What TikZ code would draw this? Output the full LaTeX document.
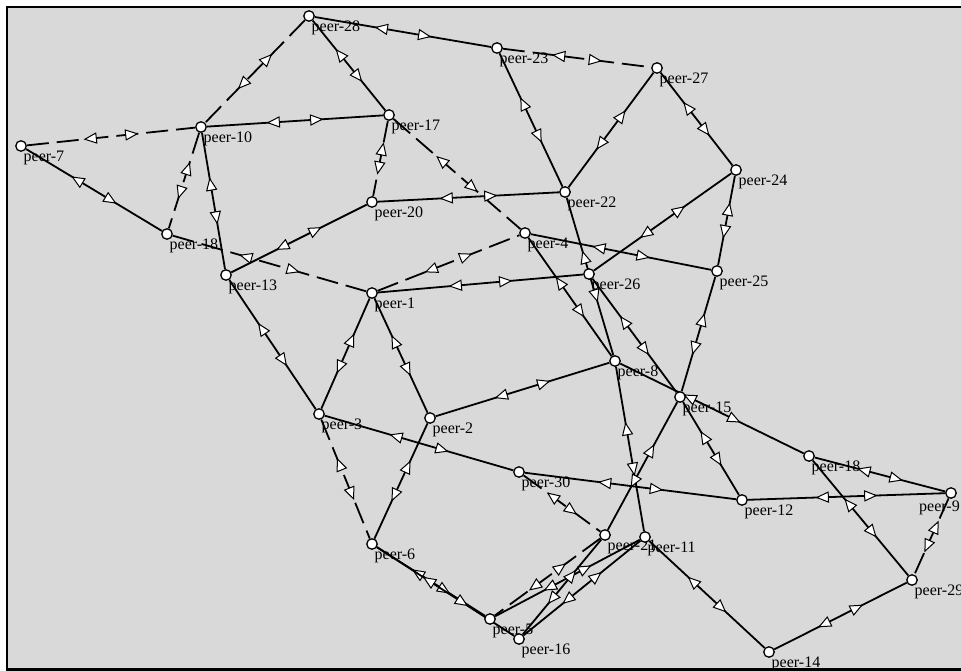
\documentclass[tikz,border=0pt]{standalone}
\usepackage{fontspec}
\setmainfont{Liberation Serif}
\usetikzlibrary{decorations.markings}
\definecolor{panel}{RGB}{217,217,217}
\pgfdeclarelayer{bg}
\pgfdeclarelayer{lbl}
\pgfdeclarelayer{wire}
\pgfsetlayers{bg,lbl,wire,main}

\begin{document}
\begin{tikzpicture}[
  x=1pt, y=-1pt,
  font=\fontsize{16}{18}\selectfont,
  peer/.style={circle, draw, fill=white, line width=1.3pt, minimum size=10.5pt, inner sep=0pt},
  tag/.style={anchor=base west, inner sep=0pt, xshift=2.5pt, yshift=-15.5pt},
  tipshape/.style={draw=black, fill=white, line width=1pt, solid, line join=miter},
  link/.style={line width=1.8pt, postaction={decorate},
    decoration={markings,
      mark=at position 0.38 with {\path[tipshape] (-6pt,0pt) -- (5.5pt,5pt) -- (5.5pt,-5pt) -- cycle;},
      mark=at position 0.62 with {\path[tipshape] (6pt,0pt) -- (-5.5pt,5pt) -- (-5.5pt,-5pt) -- cycle;}}},
  dlink/.style={link, dash pattern=on 22pt off 8pt}
]
\useasboundingbox (0,0) rectangle (961,671);
\begin{pgfonlayer}{bg}
\path[fill=panel, draw=black, line width=2.5pt] (7,7) rectangle (964,669.5);
\end{pgfonlayer}

% peers
\node[peer] (p28) at (309,16) {};
\node[peer] (p23) at (497,48) {};
\node[peer] (p27) at (657,68) {};
\node[peer] (p17) at (389,115) {};
\node[peer] (p10) at (201,127) {};
\node[peer] (p7) at (21,146) {};
\node[peer] (p24) at (736,170) {};
\node[peer] (p22) at (565,192) {};
\node[peer] (p20) at (372,202) {};
\node[peer] (p18a) at (167,234) {};
\node[peer] (p4) at (525,233) {};
\node[peer] (p13) at (226,275) {};
\node[peer] (p1) at (372,293) {};
\node[peer] (p26) at (589,274) {};
\node[peer] (p25) at (717,271) {};
\node[peer] (p8) at (615,361) {};
\node[peer] (p15) at (680,397) {};
\node[peer] (p3) at (319,414) {};
\node[peer] (p2) at (430,418) {};
\node[peer] (p30) at (519,472) {};
\node[peer] (p18b) at (809,456) {};
\node[peer] (p12) at (742,500) {};
\node[peer] (p9) at (951,493) {};
\node[peer] (p21) at (605,535) {};
\node[peer] (p11) at (645,537) {};
\node[peer] (p6) at (372,544) {};
\node[peer] (p29) at (912,580) {};
\node[peer] (p5) at (490,619) {};
\node[peer] (p16) at (519,639) {};
\node[peer] (p14) at (769,652) {};

\begin{pgfonlayer}{lbl}
\node[tag] (l28) at (p28) {peer-28};
\node[tag] (l23) at (p23) {peer-23};
\node[tag] (l27) at (p27) {peer-27};
\node[tag] (l17) at (p17) {peer-17};
\node[tag] (l10) at (p10) {peer-10};
\node[tag] (l7) at (p7) {peer-7};
\node[tag] (l24) at (p24) {peer-24};
\node[tag] (l22) at (p22) {peer-22};
\node[tag] (l20) at (p20) {peer-20};
\node[tag] (l18a) at (p18a) {peer-18};
\node[tag] (l4) at (p4) {peer-4};
\node[tag] (l13) at (p13) {peer-13};
\node[tag] (l1) at (p1) {peer-1};
\node[tag] (l26) at (p26) {peer-26};
\node[tag] (l25) at (p25) {peer-25};
\node[tag] (l8) at (p8) {peer-8};
\node[tag] (l15) at (p15) {peer-15};
\node[tag] (l3) at (p3) {peer-3};
\node[tag] (l2) at (p2) {peer-2};
\node[tag] (l30) at (p30) {peer-30};
\node[tag] (l18b) at (p18b) {peer-18};
\node[tag] (l12) at (p12) {peer-12};
\node[tag, xshift=-34.5pt, yshift=-3pt] (l9) at (p9) {peer-9};
\node[tag] (l21) at (p21) {peer-21};
\node[tag] (l11) at (p11) {peer-11};
\node[tag] (l6) at (p6) {peer-6};
\node[tag] (l29) at (p29) {peer-29};
\node[tag] (l5) at (p5) {peer-5};
\node[tag] (l16) at (p16) {peer-16};
\node[tag] (l14) at (p14) {peer-14};
\end{pgfonlayer}

% links
\begin{pgfonlayer}{wire}
\draw[link] (p28) -- (p23);
\draw[dlink] (p28) -- (p10);
\draw[link] (p28) -- (p17);
\draw[dlink] (p23) -- (p27);
\draw[link] (p23) -- (p22);
\draw[link] (p27) -- (p22);
\draw[link] (p27) -- (p24);
\draw[link] (p10) -- (p17);
\draw[dlink] (p7) -- (p10);
\draw[link] (p7) -- (p18a);
\draw[dlink] (p10) -- (p18a);
\draw[link] (p10) -- (p13);
\draw[dlink] (p17) -- (p20);
\draw[dlink] (p17) -- (p4);
\draw[link] (p20) -- (p22);
\draw[link] (p20) -- (p13);
\draw[dlink] (p18a) -- (p1);
\draw[dlink] (p1) -- (p4);
\draw[link] (p1) -- (p26);
\draw[link] (p26) -- (p24);
\draw[link] (p4) -- (p25);
\draw[link] (p24) -- (p25);
\draw[link] (p22) -- (p8);
\draw[link] (p4) -- (p8);
\draw[link] (p26) -- (p15);
\draw[link] (p25) -- (p15);
\draw[link] (p13) -- (p3);
\draw[link] (p1) -- (p3);
\draw[link] (p1) -- (p2);
\draw[link] (p2) -- (p8);
\draw[link] (p3) -- (p30);
\draw[link] (p30) -- (p12);
\draw[dlink] (p3) -- (p6);
\draw[link] (p2) -- (p6);
\draw[link] (p6) -- (p5);
\draw[link] (p6) -- (p16);
\draw[dlink] (p30) -- (p21);
\draw[dlink] (p21) -- (p5);
\draw[link] (p5) -- (p11);
\draw[link] (p16) -- (p21);
\draw[link] (p16) -- (p11);
\draw[link] (p8) -- (p18b);
\draw[link] (p15) -- (p12);
\draw[link] (p18b) -- (p9);
\draw[link] (p12) -- (p9);
\draw[link] (p18b) -- (p29);
\draw[dlink] (p9) -- (p29);
\draw[link] (p29) -- (p14);
\draw[link] (p11) -- (p14);
\draw[link] (p8) -- (p11);
\draw[link] (p15) -- (p21);
\end{pgfonlayer}
\end{tikzpicture}
\end{document}
